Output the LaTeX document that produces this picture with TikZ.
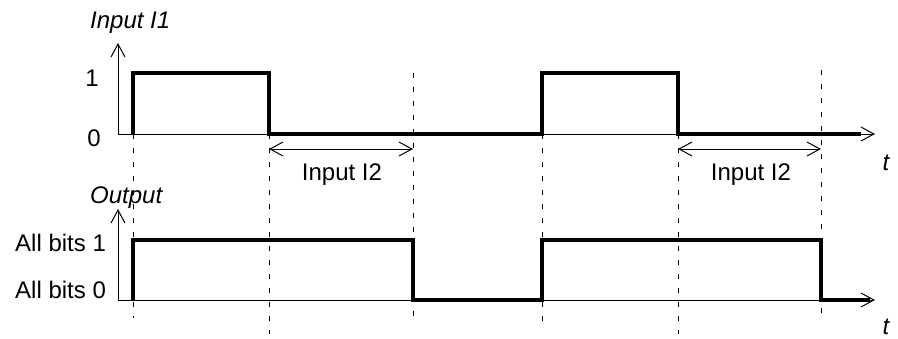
\documentclass[tikz,border=0pt]{standalone}
\usepackage{fontspec}
\setmainfont{Liberation Sans}
\usetikzlibrary{arrows.meta}
\begin{document}
\begin{tikzpicture}[x=1pt,y=-1pt,
  lbl/.style={inner sep=0pt,font=\fontsize{24}{28}\selectfont},
  ilbl/.style={lbl,font=\fontsize{24}{28}\selectfont\itshape},
  axis/.style={line width=1pt,-{Straight Barb[length=13pt,width=14pt,line width=1pt]}},
  sig/.style={line width=3.2pt,line join=miter,line cap=butt},
  guide/.style={line width=1pt,dash pattern=on 5pt off 9pt},
  dim/.style={line width=1pt,{Straight Barb[length=13pt,width=14pt,line width=1pt]}-{Straight Barb[length=13pt,width=14pt,line width=1pt]}}]
\useasboundingbox (0,0) rectangle (898,338);
% coordinates
\coordinate (o1) at (118,134);
\coordinate (y1) at (118,43);
\coordinate (x1) at (875,134);
\coordinate (o2) at (118,300);
\coordinate (y2) at (118,209);
\coordinate (x2) at (875,300);
% guides
\draw[guide] (133,134) -- (133,318);
\draw[guide] (269,134) -- (269,334);
\draw[guide] (413,73) -- (413,318);
\draw[guide] (542,134) -- (542,324);
\draw[guide] (678,134) -- (678,334);
\draw[guide] (821,70) -- (821,316);
% axes
\draw[axis] (o1) -- (y1);
\draw[axis] (o1) -- (x1);
\draw[axis] (o2) -- (y2);
\draw[axis] (o2) -- (x2);
% signals
\draw[sig] (133,134) -- (133,73) -- (269,73) -- (269,134) -- (542,134) -- (542,73) -- (678,73) -- (678,134) -- (861,134);
\draw[sig] (133,300) -- (133,240) -- (413,240) -- (413,300) -- (542,300) -- (542,240) -- (821,240) -- (821,300) -- (870,300);
% dimension arrows
\coordinate (d1a) at (269,149);
\coordinate (d1b) at (413,149);
\coordinate (d2a) at (678,149);
\coordinate (d2b) at (821,149);
\draw[dim] (d1a) -- (d1b);
\draw[dim] (d2a) -- (d2b);
% labels
\node[ilbl,anchor=base west] (in1) at (90,28) {Input I1};
\node[lbl,anchor=base] (one) at (92,86) {1};
\node[lbl,anchor=base] (zero) at (94,146) {0};
\node[lbl,anchor=base] (i2a) at (342,180) {Input I2};
\node[lbl,anchor=base] (i2b) at (751,180) {Input I2};
\node[ilbl,anchor=base] (t1) at (886,170) {t};
\node[ilbl,anchor=base west] (out) at (90,203) {Output};
\node[lbl,anchor=base west] (ab1) at (15,251) {All bits 1};
\node[lbl,anchor=base west] (ab0) at (15,298) {All bits 0};
\node[ilbl,anchor=base] (t2) at (886,334) {t};
\end{tikzpicture}
\end{document}
